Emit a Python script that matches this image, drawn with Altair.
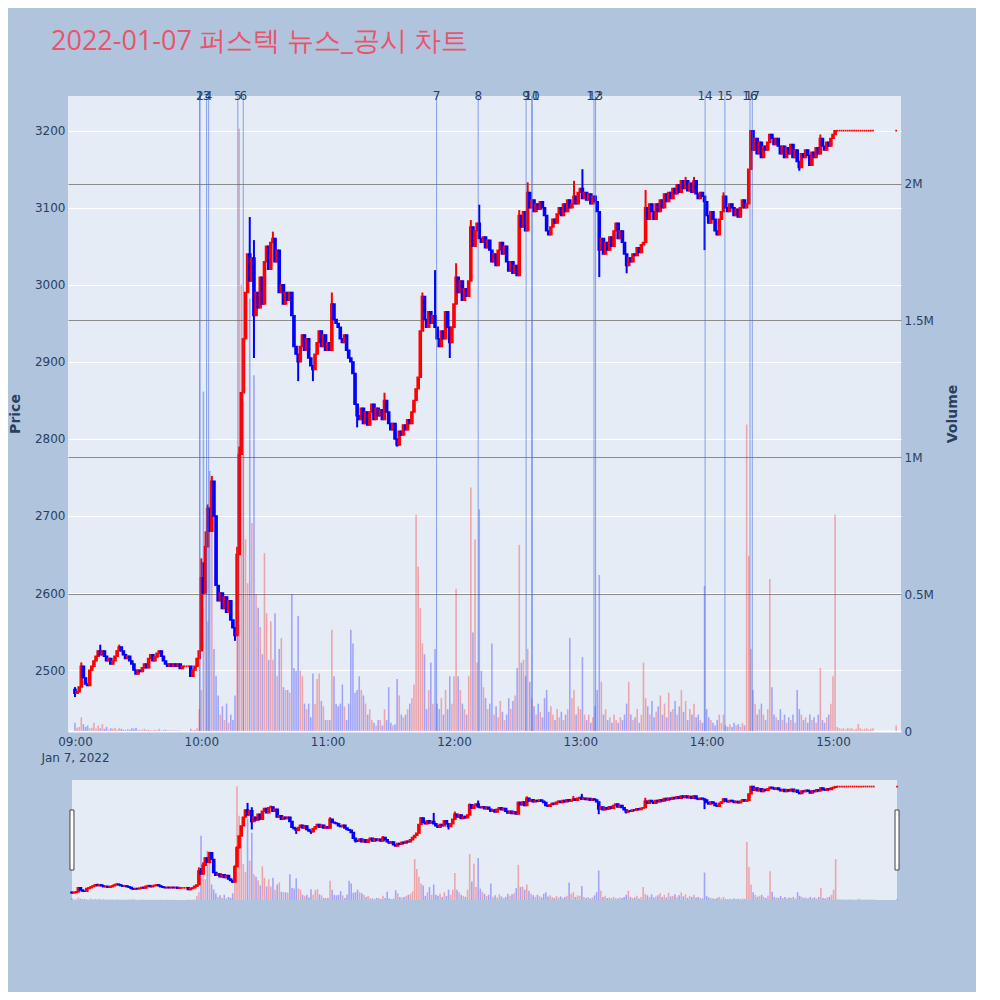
import altair as alt
import pandas as pd

TITLE = "2022-01-07 퍼스텍 뉴스_공시 차트"

open_first = 2475
# per-minute closing prices, one list per hour (09:00 .. 15:19, last value = 15:30 auction)
c09 = [2470, 2472, 2478, 2505, 2490, 2482, 2480, 2500, 2505, 2512,
       2518, 2525, 2520, 2525, 2518, 2512, 2515, 2508, 2512, 2518,
       2525, 2530, 2525, 2520, 2515, 2518, 2512, 2508, 2500, 2495,
       2500, 2498, 2503, 2508, 2503, 2515, 2520, 2512, 2517, 2522,
       2525, 2518, 2512, 2508, 2505, 2508, 2505, 2508, 2505, 2508,
       2502, 2505, 2505, 2505, 2505, 2492, 2500, 2505, 2515, 2525]
c10 = [2620, 2600, 2660, 2710, 2680, 2745, 2700, 2610, 2590, 2600,
       2580, 2595, 2575, 2590, 2565, 2555, 2545, 2650, 2780, 2860,
       2930, 2990, 3040, 3005, 3035, 2960, 2990, 2970, 3010, 2975,
       3030, 3050, 3020, 3055, 3060, 3030, 3045, 2990, 3000, 2975,
       2990, 2980, 2990, 2960, 2920, 2910, 2900, 2920, 2935, 2915,
       2930, 2905, 2895, 2890, 2910, 2925, 2940, 2920, 2935, 2915]
c11 = [2925, 2915, 2975, 2955, 2950, 2945, 2930, 2925, 2935, 2915,
       2905, 2900, 2885, 2845, 2830, 2825, 2840, 2820, 2835, 2818,
       2835, 2845, 2825, 2840, 2830, 2838, 2825, 2850, 2835, 2820,
       2812, 2820, 2800, 2792, 2810, 2805, 2818, 2812, 2825, 2820,
       2835, 2850, 2865, 2880, 2940, 2985, 2955, 2945, 2965, 2950,
       2960, 2945, 2930, 2920, 2940, 2930, 2965, 2945, 2925, 2945]
c12 = [2975, 3010, 2990, 3005, 2980, 2995, 2985, 3005, 3075, 3050,
       3070, 3080, 3060, 3055, 3062, 3048, 3058, 3045, 3030, 3040,
       3025, 3045, 3055, 3040, 3050, 3030, 3018, 3030, 3015, 3025,
       3012, 3090, 3075, 3095, 3070, 3120, 3100, 3110, 3095, 3105,
       3098, 3108, 3100, 3090, 3070, 3065, 3075, 3085, 3080, 3092,
       3100, 3090, 3105, 3095, 3110, 3100, 3105, 3115, 3105, 3120]
c13 = [3125, 3112, 3120, 3110, 3118, 3105, 3115, 3108, 3095, 3045,
       3060, 3040, 3055, 3045, 3062, 3050, 3070, 3080, 3060, 3070,
       3055, 3040, 3025, 3035, 3030, 3040, 3038, 3048, 3042, 3052,
       3055, 3100, 3085, 3105, 3095, 3085, 3105, 3095, 3110, 3100,
       3118, 3108, 3120, 3112, 3125, 3118, 3130, 3120, 3135, 3125,
       3135, 3122, 3132, 3120, 3135, 3118, 3112, 3120, 3115, 3108]
c14 = [3090, 3080, 3095, 3085, 3070, 3065, 3085, 3095, 3115, 3100,
       3095, 3105, 3100, 3090, 3098, 3088, 3100, 3110, 3100, 3105,
       3150, 3200, 3175, 3190, 3170, 3185, 3165, 3180, 3175, 3185,
       3195, 3190, 3182, 3190, 3180, 3170, 3180, 3165, 3178, 3170,
       3182, 3165, 3175, 3160, 3152, 3170, 3165, 3175, 3168, 3155,
       3172, 3165, 3178, 3170, 3190, 3180, 3175, 3185, 3180, 3190]
c15 = [3195, 3200, 3200, 3200, 3200, 3200, 3200, 3200, 3200, 3200,
       3200, 3200, 3200, 3200, 3200, 3200, 3200, 3200, 3200, 3200,
       3200]

# wick extremes (minute index from 09:00 -> price)
wick_high = {0: 2478, 3: 2510, 12: 2533, 21: 2533, 60: 2645, 61: 2640, 62: 2680,
             63: 2715, 65: 2752, 77: 2660, 78: 2790, 83: 3088, 85: 3058, 94: 3069,
             122: 2990, 147: 2860, 165: 2990, 171: 3019, 181: 3028, 188: 3084,
             192: 3104, 211: 3097, 215: 3133, 237: 3135, 241: 3150, 271: 3123,
             290: 3140, 294: 3140, 308: 3120, 354: 3195}
wick_low = {0: 2465, 76: 2538, 85: 2905, 106: 2875, 113: 2875, 134: 2815,
            153: 2790, 178: 2905, 249: 3010, 262: 3015, 299: 3045, 344: 3148}

# per-minute volume, thousands of shares
v09 = [30, 12, 15, 50, 25, 15, 20, 10, 12, 30, 8, 20, 10, 25, 8, 15, 5, 10, 8, 12,
       5, 10, 8, 5, 3, 8, 5, 10, 8, 12, 5, 3, 5, 8, 3, 5, 3, 2, 5, 3,
       8, 2, 3, 5, 2, 3, 2, 3, 2, 2, 2, 1, 1, 1, 1, 8, 3, 5, 10, 80]
v10 = [150, 1240, 500, 400, 950, 750, 300, 200, 130, 60,
       90, 40, 100, 30, 60, 40, 130, 600, 2200, 1630,
       1200, 700, 540, 1580, 760, 1300, 500, 450, 380, 280,
       650, 430, 260, 400, 260, 430, 200, 300, 340, 160,
       150, 150, 140, 500, 230, 220, 420, 220, 200, 100,
       80, 100, 50, 210, 100, 190, 210, 110, 90, 40]
v11 = [40, 40, 370, 200, 100, 90, 100, 170, 90, 40,
       100, 370, 320, 140, 150, 200, 150, 130, 100, 60,
       80, 40, 30, 20, 40, 40, 20, 80, 40, 160,
       30, 20, 25, 190, 130, 60, 50, 60, 80, 100,
       120, 170, 790, 600, 450, 320, 280, 80, 150, 250,
       100, 300, 100, 80, 120, 60, 150, 80, 200, 100]
v12 = [200, 520, 200, 150, 100, 80, 60, 200, 890, 360,
       700, 250, 810, 220, 160, 120, 80, 100, 320, 60,
       90, 50, 110, 70, 40, 60, 120, 80, 110, 130,
       230, 680, 250, 260, 200, 300, 180, 120, 90, 60,
       100, 70, 50, 120, 150, 70, 90, 60, 40, 80,
       50, 70, 40, 60, 80, 340, 120, 150, 60, 90]
v13 = [80, 270, 60, 40, 60, 30, 50, 90, 150, 570,
       180, 60, 80, 40, 50, 30, 60, 40, 30, 50,
       40, 60, 100, 180, 60, 40, 50, 80, 30, 60,
       250, 120, 90, 60, 110, 50, 70, 90, 130, 60,
       100, 50, 140, 70, 80, 110, 60, 90, 150, 70,
       110, 40, 80, 60, 100, 50, 60, 40, 30, 530]
v14 = [80, 50, 40, 30, 20, 40, 60, 30, 60, 20,
       15, 25, 15, 30, 20, 25, 15, 30, 20, 1120,
       640, 300, 150, 100, 60, 80, 100, 60, 40, 80,
       555, 160, 60, 50, 40, 80, 40, 60, 30, 50,
       40, 60, 30, 150, 80, 60, 40, 50, 30, 60,
       40, 50, 30, 60, 230, 40, 30, 50, 60, 100]
v15 = [200, 790, 15, 10, 8, 10, 5, 12, 8, 10, 5, 8, 25, 10, 5, 8, 10, 5, 8, 10, 20]

# news / disclosure markers
news_labels = [str(i) for i in range(1, 18)]
news_times = ["09:59:15", "09:59:20", "10:02:30", "10:03:30", "10:17:20", "10:19:55",
              "11:51:45", "12:11:30", "12:34:15", "12:37:00", "12:37:05", "13:06:30",
              "13:07:15", "13:59:15", "14:08:40", "14:20:35", "14:21:40"]

hour_ticks = [9, 10, 11, 12, 13, 14, 15]
price_ticks = [2500, 2600, 2700, 2800, 2900, 3000, 3100, 3200]
volume_ticks = [0, 500000, 1000000, 1500000, 2000000]

# ---------------------------------------------------------------- table
base = pd.Timestamp("2022-01-07 09:00:00")
minutes = list(range(0, 380)) + [390]
closes = c09 + c10 + c11 + c12 + c13 + c14 + c15
vols = v09 + v10 + v11 + v12 + v13 + v14 + v15
rows = []
prev = open_first
for m, c, v in zip(minutes, closes, vols):
    o = prev
    h = max(o, c, wick_high.get(m, c))
    lo = min(o, c, wick_low.get(m, c))
    rows.append(dict(t=(base + pd.Timedelta(minutes=m)).strftime("%Y-%m-%dT%H:%M:%S"),
                     open=o, close=c, high=h, low=lo, volume=v * 1000,
                     dir="up" if c >= o else "down"))
    prev = c
df = pd.DataFrame(rows)
news = pd.DataFrame({"t": ["2022-01-07T" + s for s in news_times], "label": news_labels})


def dt(h, m, s=0):
    return alt.DateTime(year=2022, month=1, date=7, hours=h, minutes=m, seconds=s)


FONT = "DejaVu Sans"
TXT = "#2a3f5f"
color_scale = alt.Scale(domain=["up", "down"], range=["#ff0000", "#0000ff"])
price_scale = alt.Scale(domain=[2421, 3245], nice=False, zero=False)
vol_scale = alt.Scale(domain=[0, 2320000], nice=False)

x_axis = alt.Axis(values=[dt(h, 0) for h in hour_ticks], title=None, grid=False, ticks=False,
                  domain=False, labelFont=FONT, labelFontSize=12, labelColor=TXT,
                  labelPadding=5, labelLineHeight=16, labelFlush=False,
                  labelExpr="hours(datum.value) == 9 ? ['09:00', 'Jan 7, 2022'] : timeFormat(datum.value, '%H:%M')")
price_axis = alt.Axis(values=price_ticks, orient="left", title="Price", grid=True, format="d",
                      gridColor="white", gridWidth=1, ticks=False, domain=False,
                      labelFont=FONT, labelFontSize=12, labelColor=TXT, labelPadding=3,
                      titleFont=FONT, titleFontSize=14, titleColor=TXT, titleFontWeight="bold",
                      titlePadding=12)
vol_axis = alt.Axis(values=volume_ticks, orient="right", title="Volume", grid=True,
                    gridColor={"condition": {"test": "datum.value == 0", "value": "white"}, "value": "#8c8c8c"},
                    gridWidth={"condition": {"test": "datum.value == 0", "value": 2}, "value": 1},
                    ticks=False, domain=False,
                    labelExpr="datum.value == 0 ? '0' : format(datum.value / 1000000, '~g') + 'M'",
                    labelFont=FONT, labelFontSize=12, labelColor=TXT, labelPadding=3,
                    titleFont=FONT, titleFontSize=14, titleColor=TXT, titleFontWeight="bold",
                    titleAngle=270, titlePadding=26)

x_main = alt.Scale(domain=[dt(8, 56, 41), dt(15, 32, 18)], padding=0)
x_slide = alt.Scale(domain=[dt(8, 58, 7), dt(15, 31, 53)], padding=0)


def candle_layers(xscale, xaxis, yaxis, vaxis):
    vol = alt.Chart(df).mark_bar(width=1.6, opacity=0.3).encode(
        x=alt.X("t:T", scale=xscale, axis=xaxis),
        y=alt.Y("volume:Q", scale=vol_scale, axis=vaxis),
        color=alt.Color("dir:N", scale=color_scale, legend=None))
    wick = alt.Chart(df).mark_rule(strokeWidth=2).encode(
        x=alt.X("t:T", scale=xscale),
        y=alt.Y("low:Q", scale=price_scale, axis=yaxis),
        y2="high:Q",
        color=alt.Color("dir:N", scale=color_scale, legend=None))
    body = alt.Chart(df).transform_filter("datum.open != datum.close").mark_bar(
        width=2.2, strokeWidth=1.4).encode(
        x=alt.X("t:T", scale=xscale),
        y=alt.Y("open:Q", scale=price_scale),
        y2="close:Q",
        color=alt.Color("dir:N", scale=color_scale, legend=None),
        stroke=alt.Color("dir:N", scale=color_scale, legend=None))
    flat = alt.Chart(df).transform_filter("datum.open == datum.close").mark_square(
        size=3, opacity=1).encode(
        x=alt.X("t:T", scale=xscale),
        y=alt.Y("close:Q", scale=price_scale),
        color=alt.Color("dir:N", scale=color_scale, legend=None))
    return vol, alt.layer(wick, body, flat)


vol_m, price_m = candle_layers(x_main, x_axis, price_axis, vol_axis)
rules = alt.Chart(news).mark_rule(color="royalblue", opacity=0.6, strokeWidth=1).encode(
    x=alt.X("t:T", scale=x_main))
labels = alt.Chart(news).mark_text(baseline="middle", fontSize=12, font=FONT, color=TXT).encode(
    x=alt.X("t:T", scale=x_main), y=alt.value(0), text="label:N")
title = alt.Chart(pd.DataFrame({"title": [TITLE]})).mark_text(
    align="left", baseline="alphabetic", fontSize=27, font="Open Sans", color="#e9546b").encode(
    x=alt.value(-17), y=alt.value(-46), text="title:N")

main = alt.layer(vol_m, price_m, rules, labels, title).resolve_scale(y="independent").properties(
    width=833, height=635, view=alt.ViewBackground(fill="#e5ecf6"))

# range slider
slider_bg = alt.Chart(pd.DataFrame({"a": ["2022-01-07T09:00:00"], "b": ["2022-01-07T15:30:00"]})).mark_rect(
    color="#e5ecf6").encode(x=alt.X("a:T", scale=x_slide, axis=None), x2="b:T")
vol_s, price_s = candle_layers(x_slide, None, None, None)
handles = alt.Chart(pd.DataFrame({"t": ["2022-01-07T09:00:00", "2022-01-07T15:30:00"]})).mark_bar(
    width=4, color="white", stroke="#444444", strokeWidth=1).encode(
    x=alt.X("t:T", scale=x_slide), y=alt.value(30), y2=alt.value(90))
slider = alt.layer(slider_bg, vol_s, price_s, handles).resolve_scale(y="independent").properties(
    width=833, height=120)

chart = alt.vconcat(main, slider, spacing=17).properties(
    background="#b0c4de", padding={"left": 0, "top": 20, "right": 16, "bottom": 92}
).configure_view(strokeWidth=0)

chart.save("out.html", embed_options={"renderer": "svg", "actions": False})
